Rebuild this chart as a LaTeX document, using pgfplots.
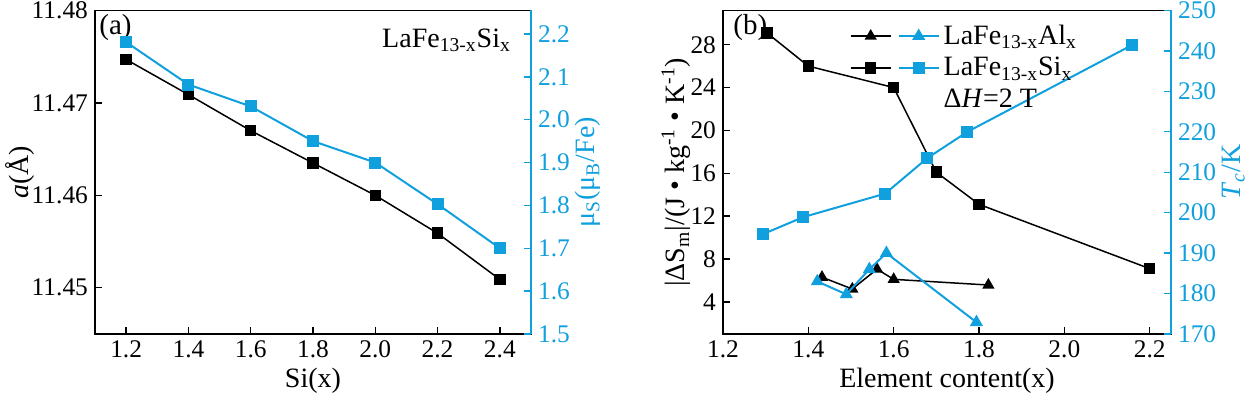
\documentclass[border=0pt]{standalone}
\usepackage{fontspec}
\setmainfont{Liberation Serif}
\usepackage{pgfplots}
\pgfplotsset{compat=1.18}
\definecolor{cblue}{RGB}{16,160,222}
\pgfplotsset{
  base/.style={
    scale only axis,
    /pgf/number format/assume math mode=true,
    xticklabel={\pgfmathprintnumber[assume math mode=true]{\tick}},
    yticklabel={\pgfmathprintnumber[assume math mode=true]{\tick}},
    tick label style={font=\fontsize{12.7}{15}\selectfont},
    label style={font=\fontsize{14}{16}\selectfont},
    tick align=inside,
    major tick length=3.5pt,
    every tick/.style={line width=0.7pt},
    axis line style={line width=0.75pt},
    ylabel shift=-4pt,
    xlabel shift=-2pt,
    clip=false,
  },
  blk/.style={color=black, line width=0.75pt, mark size=2.5pt, mark options={solid}},
  blu/.style={color=cblue, line width=1pt, mark size=2.5pt, mark options={solid}},
  dualtri/.style={legend image code/.code={
    \draw[black,line width=0.75pt,mark=triangle*,mark size=2.8pt,mark repeat=2,mark phase=2] plot coordinates {(0pt,0pt) (10pt,0pt) (20pt,0pt)};
    \draw[cblue,line width=1pt,mark=triangle*,mark size=2.8pt,mark repeat=2,mark phase=2] plot coordinates {(24pt,0pt) (34pt,0pt) (44pt,0pt)};
  }},
  dualsq/.style={legend image code/.code={
    \draw[black,line width=0.75pt,mark=square*,mark size=2.5pt,mark repeat=2,mark phase=2] plot coordinates {(0pt,0pt) (10pt,0pt) (20pt,0pt)};
    \draw[cblue,line width=1pt,mark=square*,mark size=2.5pt,mark repeat=2,mark phase=2] plot coordinates {(24pt,0pt) (34pt,0pt) (44pt,0pt)};
  }},
}
\begin{document}
\begin{tikzpicture}
\path[use as bounding box] (0,0) rectangle (624.5pt,197.5pt);
% ---------- panel (a) ----------
\begin{axis}[base,
  at={(47.5pt,30.5pt)}, anchor=south west,
  width=218pt, height=161.8pt,
  xmin=1.1, xmax=2.5, ymin=11.445, ymax=11.48001,
  xtick={1.2,1.4,1.6,1.8,2.0,2.2,2.4},
  ytick={11.45,11.46,11.47,11.48},
  xtick pos=bottom, ytick pos=left,
  xticklabel style={/pgf/number format/.cd, fixed, fixed zerofill, precision=1},
  yticklabel style={/pgf/number format/.cd, fixed, fixed zerofill, precision=2, 1000 sep={}},
  xlabel={Si(x)}, ylabel={\textit{a}(Å)}, ylabel shift=-8pt,
]
\addplot[blk, mark=square*] coordinates {(1.2,11.4747) (1.4,11.4709) (1.6,11.4670) (1.8,11.4635) (2.0,11.4600) (2.2,11.4559) (2.4,11.4509)};
\node[anchor=north west, font=\fontsize{14.5}{16}\selectfont, inner sep=2pt] at (axis description cs:0.0,1.0) {(a)};
\node[anchor=north east, font=\fontsize{14}{16}\selectfont] at (axis description cs:0.97,0.965) {LaFe\textsubscript{13-x}Si\textsubscript{x}};
\end{axis}
\begin{axis}[base,
  at={(47.5pt,30.5pt)}, anchor=south west,
  width=218pt, height=161.8pt,
  xmin=1.1, xmax=2.5, ymin=1.5, ymax=2.255,
  axis x line=none, axis y line*=right,
  y axis line style={cblue, line width=0.75pt},
  ytick={1.5,1.6,1.7,1.8,1.9,2.0,2.1,2.2},
  yticklabel style={cblue, /pgf/number format/.cd, fixed, fixed zerofill, precision=1},
  every y tick/.style={cblue, line width=0.7pt},
  ylabel={\color{cblue}μ\textsubscript{S}(μ\textsubscript{B}/Fe)},
]
\addplot[blu, mark=square*] coordinates {(1.2,2.181) (1.4,2.082) (1.6,2.031) (1.8,1.950) (2.0,1.900) (2.2,1.803) (2.4,1.700)};
\end{axis}
% ---------- panel (b) ----------
\begin{axis}[base,
  at={(361.5pt,30.5pt)}, anchor=south west,
  width=224pt, height=161.8pt,
  xmin=1.2, xmax=2.25, ymin=1, ymax=31.2,
  xtick={1.2,1.4,1.6,1.8,2.0,2.2},
  ytick={4,8,12,16,20,24,28},
  xtick pos=bottom, ytick pos=left,
  xticklabel style={/pgf/number format/.cd, fixed, fixed zerofill, precision=1},
  xlabel={Element content(x)},
  ylabel={|ΔS\textsubscript{m}|/(J • kg\textsuperscript{-1} • K\textsuperscript{-1})}, ylabel shift=-7pt,
]
\addplot[blk, mark=square*] coordinates {(1.303,29.1) (1.4,26.0) (1.6,24.0) (1.70,16.1) (1.80,13.1) (2.2,7.1)};
\addplot[blk, mark=triangle*, mark size=2.8pt] coordinates {(1.432,6.3) (1.503,5.2) (1.561,7.05) (1.600,6.1) (1.822,5.57)};
\node[anchor=north west, font=\fontsize{14.5}{16}\selectfont, inner sep=2pt, xshift=3pt] at (axis description cs:0.0,1.0) {(b)};
\end{axis}
\begin{axis}[base,
  at={(361.5pt,30.5pt)}, anchor=south west,
  width=224pt, height=161.8pt,
  xmin=1.2, xmax=2.25, ymin=170, ymax=250,
  axis x line=none, axis y line*=right,
  y axis line style={cblue, line width=0.75pt},
  ytick={170,180,190,200,210,220,230,240,250},
  yticklabel style={cblue},
  every y tick/.style={cblue, line width=0.7pt},
  ylabel={\color{cblue}\textit{T}\textsubscript{\textit{c}}/K},
  legend style={at={(axis description cs:0.278,0.975)}, anchor=north west, draw=none, fill=none,
    font=\fontsize{14}{16}\selectfont, row sep=1pt, inner sep=1pt},
  legend cell align=left,
]
\addplot[blu, mark=square*, forget plot] coordinates {(1.294,194.7) (1.388,198.9) (1.580,204.7) (1.679,213.5) (1.773,220.0) (2.158,241.4)};
\addplot[blu, mark=triangle*, mark size=2.8pt, forget plot] coordinates {(1.421,183.0) (1.489,179.8) (1.543,186.0) (1.583,190.0) (1.794,172.9)};
\addlegendimage{dualtri}
\addlegendentry{LaFe\textsubscript{13-x}Al\textsubscript{x}}
\addlegendimage{dualsq}
\addlegendentry{LaFe\textsubscript{13-x}Si\textsubscript{x}}
\addlegendimage{empty legend}
\addlegendentry{Δ\textit{H}=2 T}
\end{axis}
\end{tikzpicture}
\end{document}
